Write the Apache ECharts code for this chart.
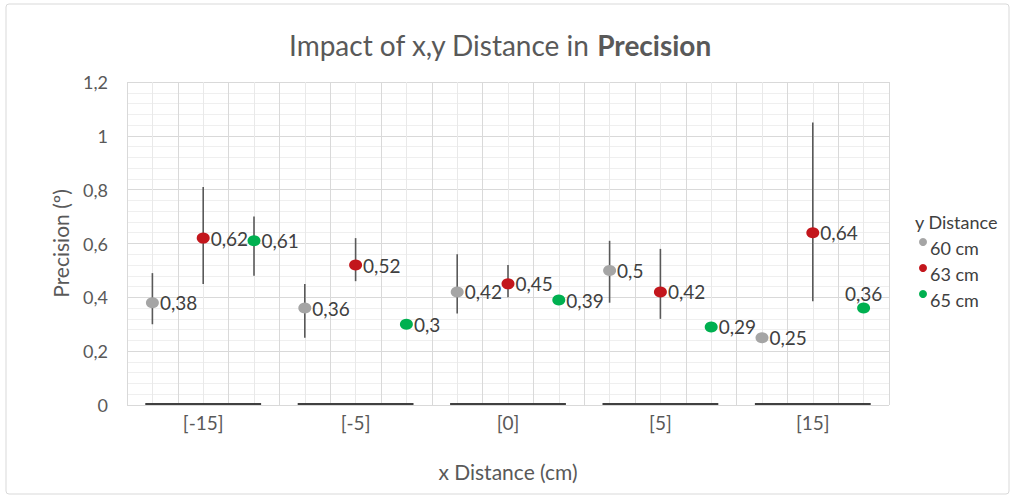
<!DOCTYPE html>
<html>
<head>
<meta charset="utf-8">
<script src="https://cdn.jsdelivr.net/npm/echarts@6/dist/echarts.min.js"></script>
<style>
html,body{margin:0;padding:0;background:#fff;}
#chart{width:1016px;height:499px;}
</style>
</head>
<body>
<div id="chart"></div>
<script>
const categories = ['[-15]', '[-5]', '[0]', '[5]', '[15]'];
const seriesNames = ['60 cm', '63 cm', '65 cm'];
const values60 = [0.38, 0.36, 0.42, 0.50, 0.25];
const values63 = [0.62, 0.52, 0.45, 0.42, 0.64];
const values65 = [0.61, 0.30, 0.39, 0.29, 0.36];
const errLow60 = [0.30, 0.25, 0.34, 0.38, null];
const errHigh60 = [0.49, 0.45, 0.56, 0.61, null];
const errLow63 = [0.45, 0.46, 0.40, 0.32, 0.385];
const errHigh63 = [0.81, 0.62, 0.52, 0.58, 1.05];
const errLow65 = [0.48, null, null, null, null];
const errHigh65 = [0.70, null, null, null, null];
const yTickLabels = ['0', '0,2', '0,4', '0,6', '0,8', '1', '1,2'];

const colors = ['#a5a5a5', '#c3161c', '#00b050'];
const FONT = 'Lato';
const allValues = [values60, values63, values65];
const allLow = [errLow60, errLow63, errLow65];
const allHigh = [errHigh60, errHigh63, errHigh65];
const nSer = seriesNames.length;

const fmt = v => String(v).replace('.', ',');

const series = [];
// error bars
allValues.forEach((vals, s) => {
  const data = [];
  vals.forEach((v, g) => {
    if (allLow[s][g] != null) data.push([g * nSer + s + 0.5, allLow[s][g], allHigh[s][g]]);
  });
  series.push({
    type: 'custom',
    xAxisIndex: 0, yAxisIndex: 0,
    z: 2,
    silent: true,
    data: data,
    renderItem: function (params, api) {
      const p1 = api.coord([api.value(0), api.value(1)]);
      const p2 = api.coord([api.value(0), api.value(2)]);
      return {type: 'line', shape: {x1: p1[0], y1: p1[1], x2: p2[0], y2: p2[1]},
        style: {stroke: '#595959', lineWidth: 1.6}};
    }
  });
});
// points
allValues.forEach((vals, s) => {
  series.push({
    name: seriesNames[s],
    type: 'scatter',
    xAxisIndex: 0, yAxisIndex: 0,
    z: 5,
    symbol: 'circle',
    symbolSize: [13, 11],
    itemStyle: {color: colors[s], opacity: 1},
    data: vals.map((v, g) => {
      const d = {value: [g * nSer + s + 0.5, v]};
      if (s === 2 && g === 4) d.label = {position: 'top', distance: 0};
      return d;
    }),
    label: {
      show: true, position: 'right', distance: 1,
      formatter: p => fmt(p.value[1]),
      fontFamily: FONT, fontSize: 19, color: '#404040'
    }
  });
});
// category group underline
series.push({
  type: 'custom',
  xAxisIndex: 1, yAxisIndex: 0,
  silent: true,
  z: 3,
  data: categories.map((c, i) => [i, 0]),
  renderItem: function (params, api) {
    const p = api.coord([api.value(0), 0]);
    const w = api.size([1, 0])[0];
    return {type: 'line', shape: {x1: p[0] - w * 0.38, y1: p[1] - 1, x2: p[0] + w * 0.38, y2: p[1] - 1},
      style: {stroke: '#404040', lineWidth: 2}};
  }
});

const chart = echarts.init(document.getElementById('chart'), null, {renderer: 'svg'});
chart.setOption({
  animation: false,
  backgroundColor: '#fff',
  textStyle: {fontFamily: FONT},
  graphic: [{
    type: 'rect', shape: {x: 6, y: 4, width: 1003, height: 490, r: 3},
    style: {fill: 'none', stroke: '#d9d9d9', lineWidth: 1}, silent: true, z: -10
  }],
  title: [{
    text: 'Impact of x,y Distance in {b|Precision}',
    left: 289, top: 31, padding: 0,
    textStyle: {fontFamily: FONT, fontSize: 28, fontWeight: 'normal', color: '#595959',
      rich: {b: {fontFamily: FONT, fontSize: 28, fontWeight: 'bold', color: '#595959'}}}
  }, {
    text: 'y Distance', left: 915, top: 213, padding: 0,
    textStyle: {fontFamily: FONT, fontSize: 18, fontWeight: 'normal', color: '#404040'}
  }],
  legend: {
    data: seriesNames,
    orient: 'vertical',
    left: 914, top: 233,
    itemGap: 7,
    itemWidth: 8, itemHeight: 8,
    icon: 'circle',
    formatter: '{a|{name}}',
    textStyle: {fontFamily: FONT, fontSize: 18, color: '#404040',
      rich: {a: {fontFamily: FONT, fontSize: 18, color: '#404040', padding: [12, 0, 0, -2]}}}
  },
  grid: {left: 127, right: 127, top: 82, bottom: 94},
  xAxis: [{
    type: 'value', min: 0, max: categories.length * nSer, interval: 1,
    axisLine: {show: false}, axisTick: {show: false}, axisLabel: {show: false},
    splitLine: {show: true, lineStyle: {color: '#d9d9d9', width: 1}},
    minorTick: {show: false, splitNumber: 2},
    minorSplitLine: {show: true, lineStyle: {color: '#e9e9e9', width: 1}},
    name: 'x Distance (cm)', nameLocation: 'middle', nameGap: 56,
    nameTextStyle: {fontFamily: FONT, fontSize: 21, color: '#595959'}
  }, {
    type: 'category', data: categories, position: 'bottom', boundaryGap: true,
    axisLine: {show: false}, axisTick: {show: false},
    splitLine: {show: false},
    axisLabel: {show: true, margin: 8, fontFamily: FONT, fontSize: 19, color: '#595959'}
  }],
  yAxis: {
    type: 'value', min: 0, max: 1.2, interval: 0.2,
    axisLine: {show: false}, axisTick: {show: false},
    axisLabel: {margin: 19, fontFamily: FONT, fontSize: 18, color: '#595959',
      formatter: v => yTickLabels[Math.round(v / 0.2)]},
    splitLine: {show: true, lineStyle: {color: '#d9d9d9', width: 1}},
    minorTick: {show: false, splitNumber: 5},
    minorSplitLine: {show: true, lineStyle: {color: '#efefef', width: 1}},
    name: 'Precision (º)', nameLocation: 'middle', nameGap: 56, nameRotate: 90,
    nameTextStyle: {fontFamily: FONT, fontSize: 21, color: '#595959'}
  },
  series: series
});
</script>
</body>
</html>
